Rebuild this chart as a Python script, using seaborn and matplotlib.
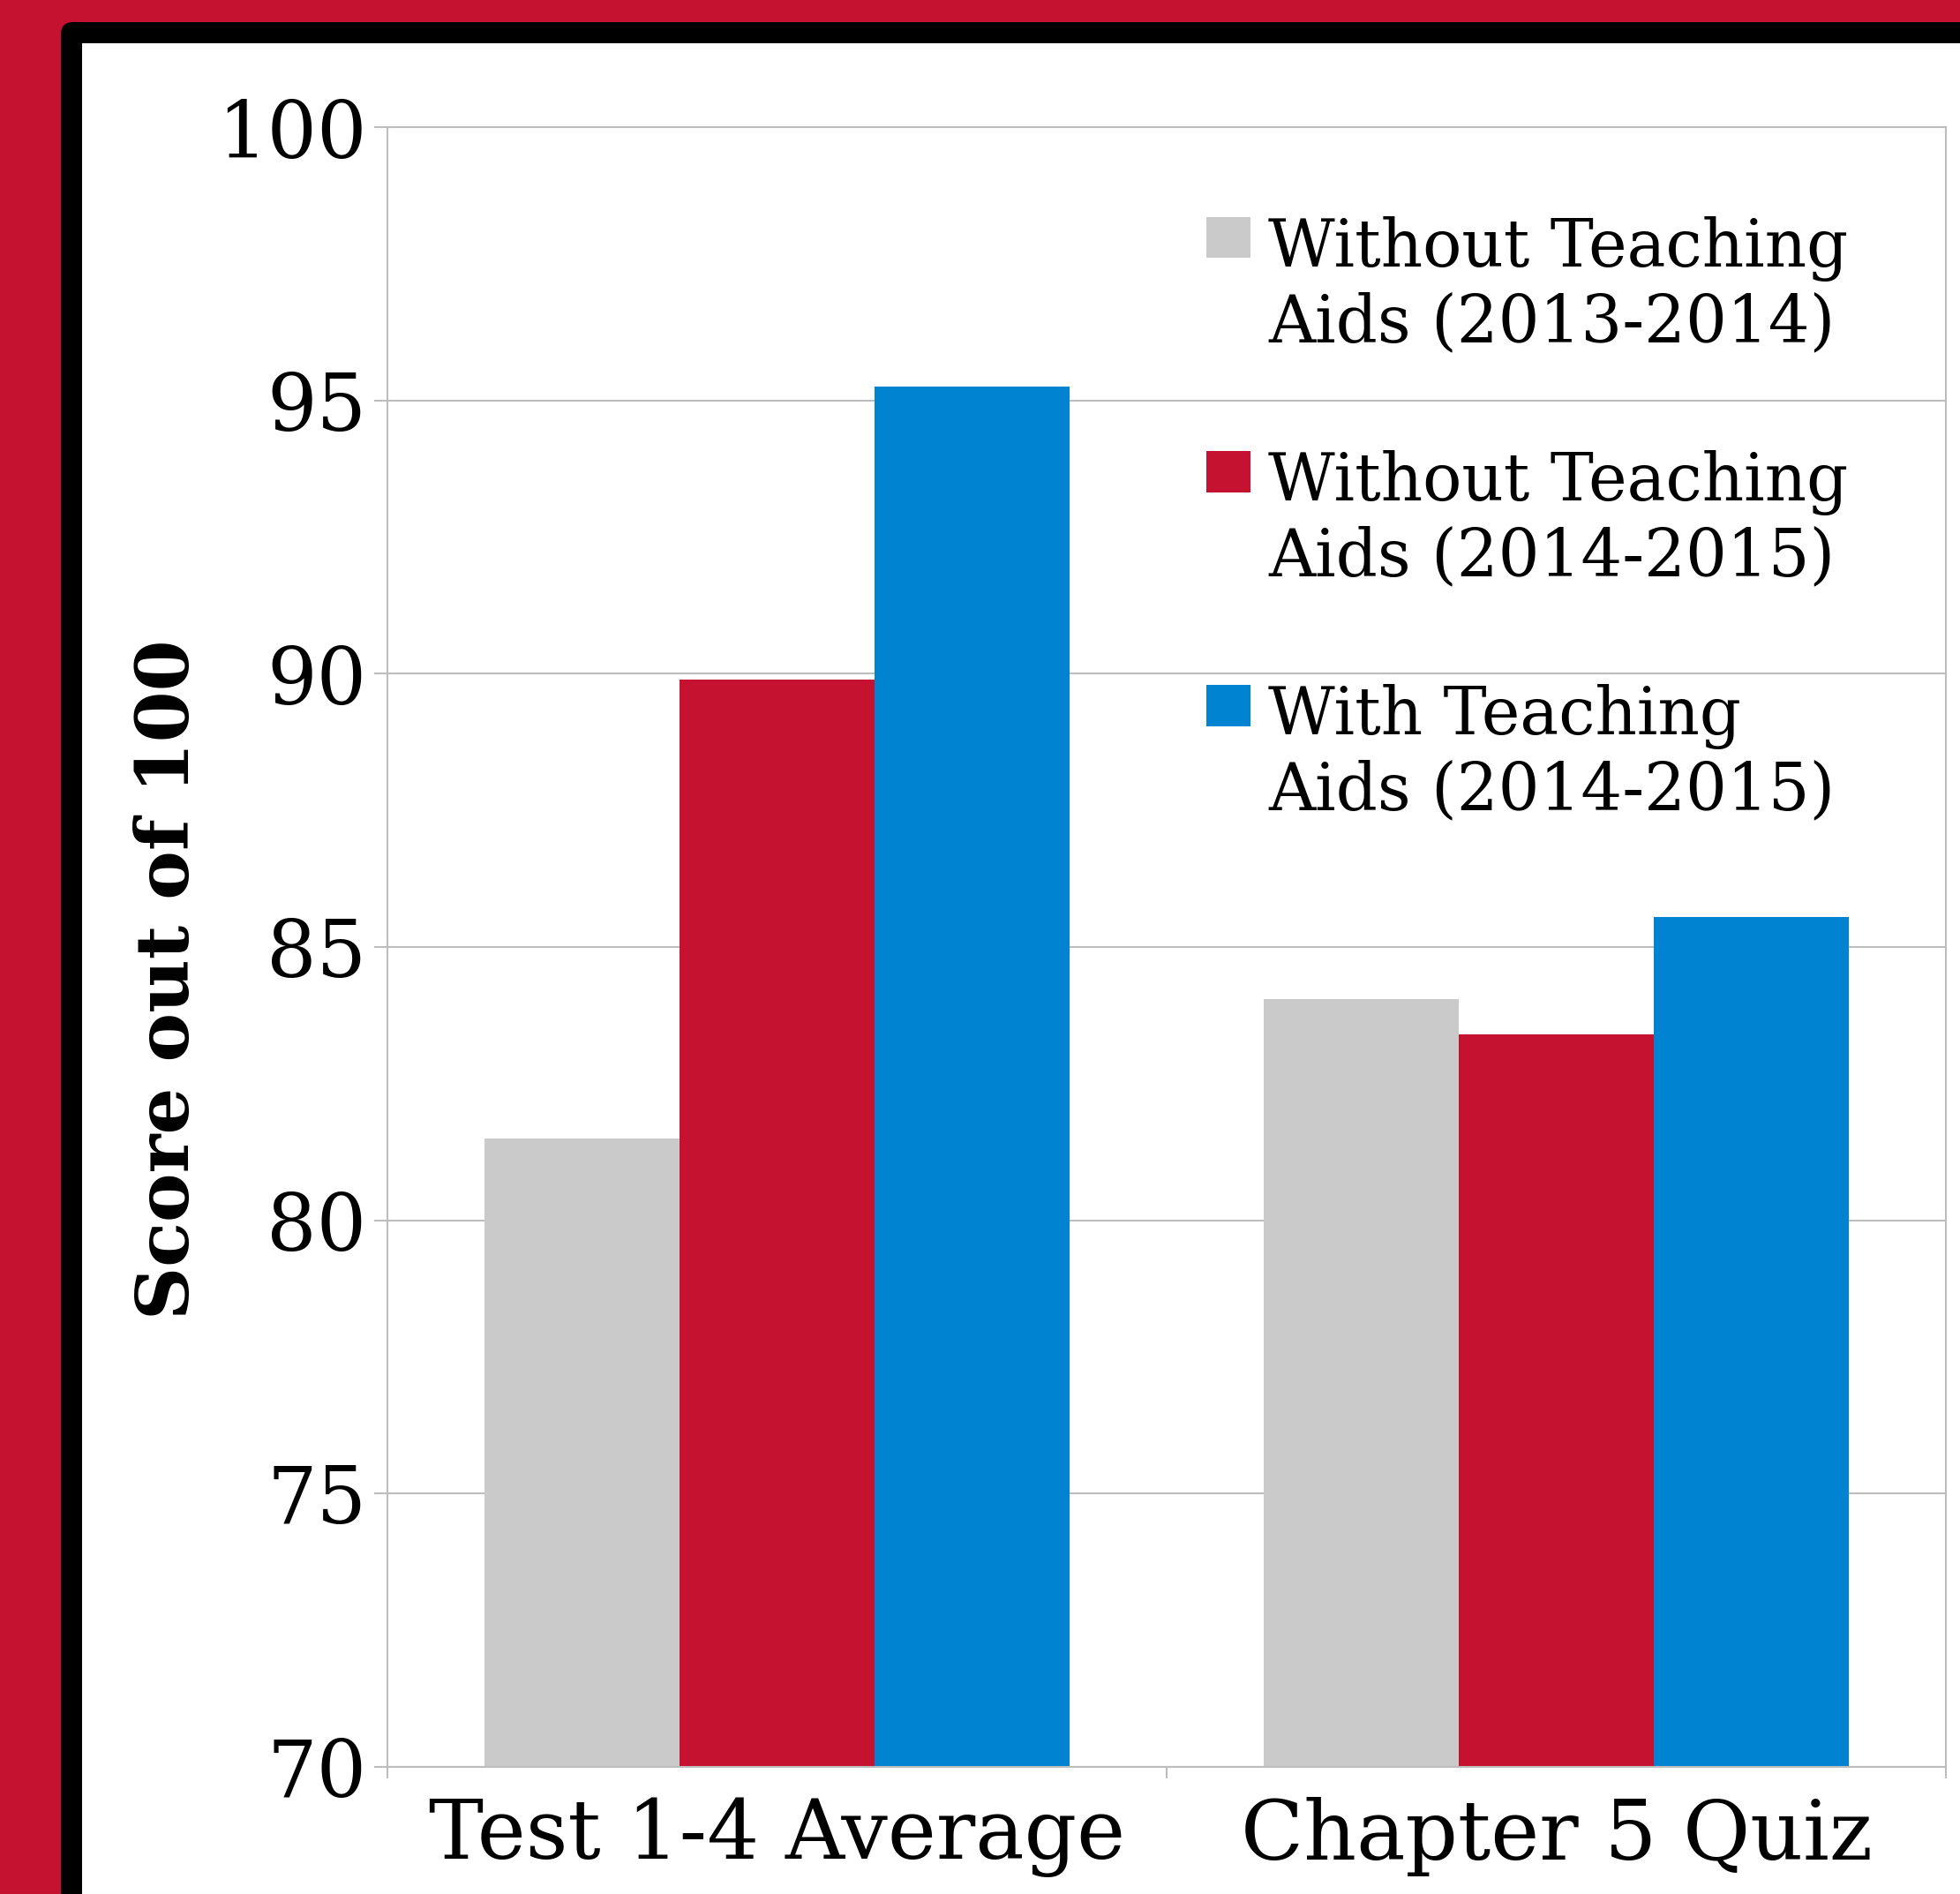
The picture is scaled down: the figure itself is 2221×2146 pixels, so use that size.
import matplotlib
matplotlib.use("Agg")
import matplotlib.pyplot as plt
import seaborn as sns
import pandas as pd
from matplotlib.patches import FancyBboxPatch, Rectangle, Patch
from matplotlib.legend_handler import HandlerPatch
from matplotlib.container import BarContainer

# ---- data ----
categories = ["Test 1-4 Average", "Chapter 5 Quiz"]
series = ["Without Teaching\nAids (2013-2014)",
          "Without Teaching\nAids (2014-2015)",
          "With Teaching\nAids (2014-2015)"]
without_2013_2014 = [81.5, 84.05]
without_2014_2015 = [89.9, 83.4]
with_2014_2015 = [95.25, 85.55]
y_ticks = [70, 75, 80, 85, 90, 95, 100]
y_label = "Score out of 100"

colors = ["#CACACA", "#C41230", "#0083D1"]
grid_gray = "#BDBDBD"

rows = []
for s, vals in zip(series, [without_2013_2014, without_2014_2015, with_2014_2015]):
    for c, v in zip(categories, vals):
        rows.append({"category": c, "series": s, "score": v})
df = pd.DataFrame(rows)

sns.set_style("white")
plt.rcParams["font.family"] = ["DejaVu Serif"]
plt.rcParams["text.color"] = "black"

fig = plt.figure(figsize=(22.21, 21.46), dpi=100)
fig.patch.set_facecolor("#C41230")

# black frame with rounded top-left corner, white panel inside
frame = FancyBboxPatch((0.69, -1.0), 30, 21.21 + 1.0,
                       boxstyle="round,pad=0,rounding_size=0.14",
                       transform=fig.dpi_scale_trans, fc="black", ec="none", zorder=-10)
panel = Rectangle((0.93, -1.0), 30, 20.97 + 1.0, transform=fig.dpi_scale_trans,
                  fc="white", ec="none", zorder=-9)
fig.add_artist(frame)
fig.add_artist(panel)

ax = fig.add_axes([0.1977, 0.0673, 0.7951, 0.8654])
ax.set_facecolor("white")

sns.barplot(data=df, x="category", y="score", hue="series", order=categories,
            hue_order=series, palette=colors, width=0.75, saturation=1,
            linewidth=0, edgecolor="none", ax=ax)

ax.set_ylim(70, 100)
ax.set_xlim(-0.5, 1.5)
ax.set_yticks(y_ticks)
ax.set_yticklabels([str(t) for t in y_ticks])
ax.set_axisbelow(True)
ax.yaxis.grid(True, color=grid_gray, linewidth=1.5)
ax.xaxis.grid(False)

for sp in ax.spines.values():
    sp.set_visible(True)
    sp.set_color(grid_gray)
    sp.set_linewidth(1.5)

ax.tick_params(axis="y", which="major", left=True, length=11, width=1.5,
               color=grid_gray, pad=6, labelsize=64, labelcolor="black")
ax.tick_params(axis="x", which="major", length=0, pad=25, labelsize=67,
               labelcolor="black")
ax.set_xticks([-0.5, 0.5, 1.5], minor=True)
ax.tick_params(axis="x", which="minor", bottom=True, length=9, width=1.5,
               color=grid_gray)

ax.set_xlabel("")
ax.set_ylabel(y_label, fontsize=60, fontweight="bold", color="black")
ax.yaxis.set_label_coords(-0.118, 0.48)


def top_square(legend, orig_handle, xdescent, ydescent, width, height, fontsize):
    # align the square with the first line of the two-line label
    return Rectangle((-xdescent, -ydescent + 0.78 * fontsize), width, height)


def copy_style(legend_handle, orig_handle):
    src = orig_handle[0] if isinstance(orig_handle, BarContainer) else orig_handle
    legend_handle.update_from(src)


square_handler = HandlerPatch(patch_func=top_square, update_func=copy_style)

handles, labels = ax.get_legend_handles_labels()
old = ax.get_legend()
if old is not None:
    old.remove()
leg = ax.legend(handles, labels, loc="upper left", bbox_to_anchor=(0.5255, 0.946),
                frameon=False, borderpad=0, borderaxespad=0,
                handlelength=0.68, handleheight=0.6, handletextpad=0.27,
                labelspacing=1.45, prop={"size": 53}, labelcolor="black",
                handler_map={BarContainer: square_handler, Patch: square_handler})

fig.savefig("out.png", dpi=100, facecolor=fig.get_facecolor())
